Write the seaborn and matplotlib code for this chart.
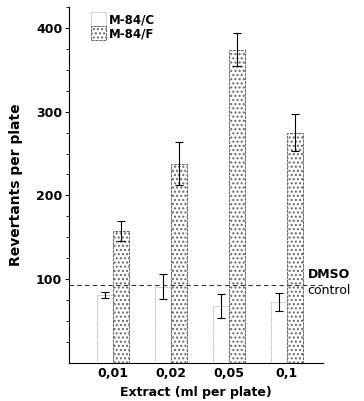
import pandas as pd
import seaborn as sns
import matplotlib.pyplot as plt
from matplotlib.patches import Patch
import numpy as np

# values
doses = ["0,01", "0,02", "0,05", "0,1"]
c_means = [81, 91, 68, 73]
c_err = [4, 15, 14, 11]
f_means = [157, 238, 374, 275]
f_err = [12, 26, 20, 22]
dmso_control = 93
strains = ["M-84/C", "M-84/F"]

sns.set_theme(style="ticks")
plt.rcParams['font.family'] = ['DejaVu Sans']
plt.rcParams['font.weight'] = 'bold'
for key in ["text.color", "axes.labelcolor", "xtick.color", "ytick.color",
            "axes.edgecolor"]:
    plt.rcParams[key] = "black"

df = pd.DataFrame({
    "dose": doses * 2,
    "strain": [strains[0]] * 4 + [strains[1]] * 4,
    "mean": c_means + f_means,
    "err": c_err + f_err,
})

fig = plt.figure(figsize=(3.64, 4.01), dpi=100)
ax = fig.add_axes([0.19, 0.095, 0.697, 0.8875])

sns.barplot(data=df, x="dose", y="mean", hue="strain", order=doses,
            hue_order=strains, errorbar=None, width=0.56, gap=0,
            palette=["white", "white"], legend=False, ax=ax)

# style the bars: C nearly invisible, F stippled
c_style = dict(facecolor="white", edgecolor="#b0b0b0", linewidth=0.6,
               linestyle=(0, (2, 1)))
f_style = dict(facecolor="white", edgecolor="#666666", linewidth=0.7,
               linestyle=(0, (3, 1)), hatch="....")
n = len(doses)
for i, p in enumerate(ax.patches[:2 * n]):
    p.set(**(c_style if i < n else f_style))

# error bars at bar centres
for i, p in enumerate(ax.patches[:2 * n]):
    xc = p.get_x() + p.get_width() / 2
    ax.errorbar(xc, df["mean"][i], yerr=df["err"][i], color="black",
                lw=0.8, capsize=3, capthick=0.8)

# DMSO control line
ax.axhline(dmso_control, color="#333333", lw=0.8, ls=(0, (4, 3)))
ax.text(0.94, dmso_control + 13, "DMSO", transform=ax.get_yaxis_transform(),
        fontsize=9, fontweight="bold", va="center", ha="left")
ax.text(0.94, dmso_control - 7, "control", transform=ax.get_yaxis_transform(),
        fontsize=9, va="center", ha="left", fontweight="normal")

ax.set_xlim(-0.76, 3.62)
ax.set_ylim(0, 421)
ax.set_yticks([100, 200, 300, 400])
ax.set_yticks(np.arange(25, 426, 25), minor=True)
ax.tick_params(axis="y", which="major", length=3, width=0.8, labelsize=9, pad=2)
ax.tick_params(axis="y", which="minor", length=2, width=0.6)
ax.tick_params(axis="x", length=0, labelsize=9, pad=3)
for lab in ax.get_xticklabels() + ax.get_yticklabels():
    lab.set_fontweight("bold")

ax.set_xlabel("Extract (ml per plate)", fontsize=9, fontweight="bold", labelpad=4)
ax.set_ylabel("Revertants per plate", fontsize=10, fontweight="bold", labelpad=9)
sns.despine(ax=ax)
for s in ["left", "bottom"]:
    ax.spines[s].set_linewidth(0.8)

handles = [Patch(**c_style), Patch(**f_style)]
leg = ax.legend(handles, strains, loc="upper left", bbox_to_anchor=(0.085, 0.985),
                frameon=False, fontsize=8.5, handlelength=1.3, handleheight=1.45,
                handletextpad=0.2, labelspacing=0.0, borderaxespad=0,
                borderpad=0)
for t in leg.get_texts():
    t.set_fontweight("bold")

fig.savefig("out.png", dpi=100)
